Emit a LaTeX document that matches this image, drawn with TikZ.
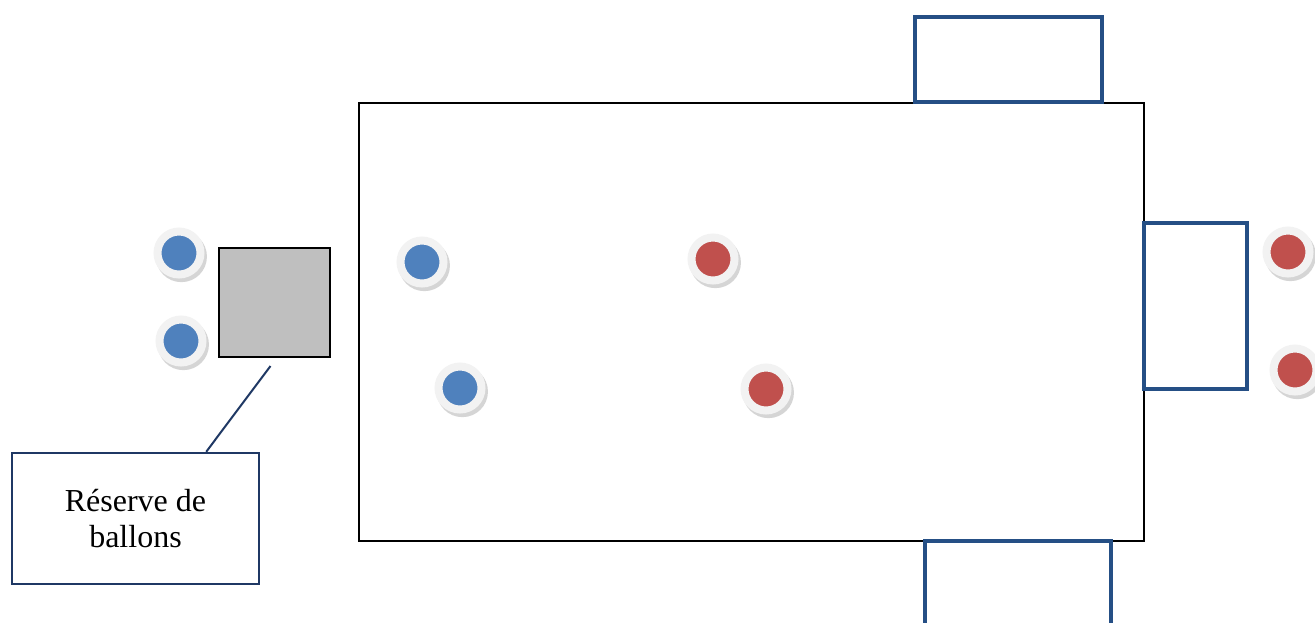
\documentclass[tikz,border=0pt]{standalone}
\usepackage{fontspec}
\setmainfont{Liberation Serif}
\usepackage{tikz}
\usetikzlibrary{shadows}
\definecolor{butbleu}{RGB}{37,79,133}
\definecolor{marine}{RGB}{31,56,100}
\definecolor{bleujoueur}{RGB}{79,129,189}
\definecolor{rougejoueur}{RGB}{192,80,77}
\definecolor{anneau}{RGB}{242,242,242}
\definecolor{gris}{RGB}{191,191,191}

\begin{document}
\begin{tikzpicture}[
    x=1pt, y=-1pt,
    terrain/.style={draw, line width=1.5pt, inner sep=0pt},
    but/.style={draw=butbleu, line width=3.5pt, fill=white, inner sep=0pt},
    reserve/.style={draw, line width=2pt, fill=gris, inner sep=0pt},
    legende/.style={draw=marine, line width=2.5pt, fill=white, align=center,
                    font=\fontsize{32}{36}\selectfont, inner sep=0pt},
    joueur/.style={circle, minimum size=43pt, inner sep=0pt, line width=8pt,
                   draw=anneau, fill=#1,
                   drop shadow={shadow xshift=2pt, shadow yshift=-3pt,
                                shadow scale=1.19, fill=gray!65}},
    ligne/.style={draw=marine, line width=2pt},
  ]
    \useasboundingbox (0,0) rectangle (1315,622);
    \clip (0,0) rectangle (1315,622);

    % === Terrain ===
    \node[terrain, minimum width=785pt, minimum height=438pt] (terrain) at (751.5,322) {};

    % Buts
    \node[but, minimum width=187pt, minimum height=85pt] (buthaut) at (1008.5,59.5) {};
    \node[but, minimum width=103pt, minimum height=166pt] (butdroit) at (1195.5,306) {};
    \node[but, minimum width=186pt, minimum height=130pt] (butbas) at (1018,606) {};

    % === Reserve de ballons ===
    \node[reserve, minimum width=111pt, minimum height=109pt] (res) at (274.5,302.5) {};
    \node[legende, minimum width=247pt, minimum height=131pt] (boite) at (135.5,518.5)
      {R\'eserve de\\ballons};
    \draw[ligne] ([shift={(-4,8)}]res.south) -- ([xshift=-54pt]boite.north east);

    % === Joueurs bleus ===
    \node[joueur=bleujoueur] (b1) at (179,253) {};
    \node[joueur=bleujoueur] (b2) at (181,341) {};
    \node[joueur=bleujoueur] (b3) at (422,262) {};
    \node[joueur=bleujoueur] (b4) at (460,388) {};

    % === Joueurs rouges ===
    \node[joueur=rougejoueur] (r1) at (713,259) {};
    \node[joueur=rougejoueur] (r2) at (766,389) {};
    \node[joueur=rougejoueur] (r3) at (1288,252) {};
    \node[joueur=rougejoueur] (r4) at (1295,370) {};
  \end{tikzpicture}
\end{document}
